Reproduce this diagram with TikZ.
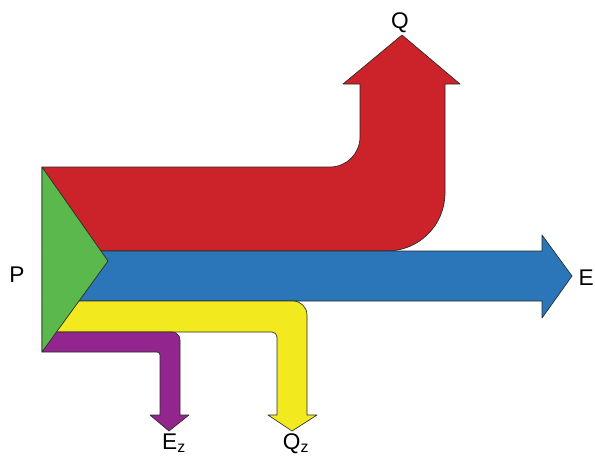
\documentclass[tikz,border=0pt]{standalone}
\usepackage{fontspec}
\setmainfont{Liberation Sans}
\usepackage{tikz}
\usetikzlibrary{positioning}
\definecolor{skred}{HTML}{CC2229}
\definecolor{skblue}{HTML}{2A76B9}
\definecolor{skgreen}{HTML}{5BB84C}
\definecolor{skyellow}{HTML}{F2EA1E}
\definecolor{skpurple}{HTML}{92268E}
\definecolor{skline}{HTML}{2A2A2A}
\tikzset{
  flow/.style={draw=skline,line width=0.5pt,line join=round},
  lbl/.style={font=\fontsize{17}{20}\selectfont,inner sep=0pt,anchor=base},
}
\begin{document}
\begin{tikzpicture}[x=0.75pt,y=-0.75pt]
    \useasboundingbox (0,0) rectangle (595,455);
    \draw[flow,fill=skred] (42,167) -- (330,167) arc[start angle=90,end angle=0,radius=30]
      -- (360,84) -- (343,84) -- (402,35) -- (460,84) -- (445,84)
      -- (445,193) arc[start angle=0,end angle=90,radius=58] -- (42,251) -- cycle;
    \draw[flow,fill=skblue] (42,251) -- (542,251) -- (542,235) -- (572,276)
      -- (542,318) -- (542,301) -- (42,301) -- cycle;
    \draw[flow,fill=skyellow] (42,301) -- (293,301) arc[start angle=-90,end angle=0,radius=14]
      -- (307,415) -- (317,415) -- (292,431) -- (268,415) -- (277,415)
      -- (277,337) arc[start angle=0,end angle=-90,radius=5] -- (42,332) -- cycle;
    \draw[flow,fill=skpurple] (42,332) -- (172,332) arc[start angle=-90,end angle=0,radius=8]
      -- (180,415) -- (189,415) -- (169,431) -- (150,415) -- (160,415)
      -- (160,355) arc[start angle=0,end angle=-90,radius=3] -- (42,352) -- cycle;
    \draw[flow,fill=skgreen] (42,167) -- (108,261) -- (42,352) -- cycle;
    \node[lbl] (p) at (17,282) {P};
    \node[lbl] (q) at (400,28) {Q};
    \node[lbl,anchor=base east] (e) at (594,285) {E};
    \node[lbl] (ez) at (174,449) {E\textsubscript{z}};
    \node[lbl] (qz) at (296,449) {Q\textsubscript{z}};
\end{tikzpicture}
\end{document}
